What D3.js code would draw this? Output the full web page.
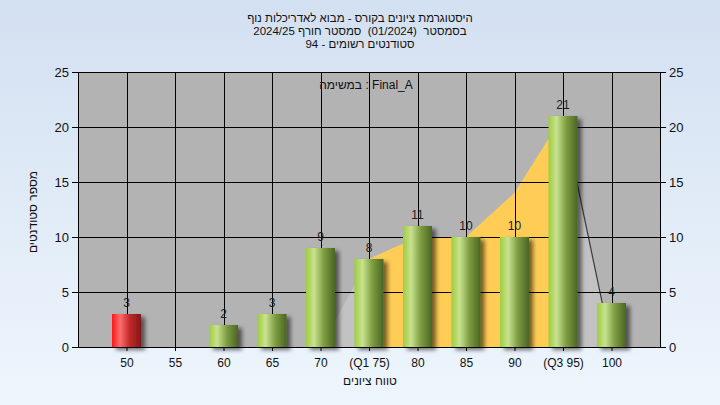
<!DOCTYPE html>
<html><head><meta charset="utf-8">
<script src="https://cdn.jsdelivr.net/npm/d3@7/dist/d3.min.js"></script>
<style>
html,body{margin:0;padding:0;}
svg{display:block;font-family:"Liberation Sans","DejaVu Sans",Arial,sans-serif;}
</style></head>
<body>
<svg id="chart" width="720" height="405"></svg>
<script>
const categories = ["50","55","60","65","70","(Q1 75)","80","85","90","(Q3 95)","100"];
const counts = [3,0,2,3,9,8,11,10,10,21,4];
const areaValues = [0,0,0,0,0,8,10,10,14,21,0];
const failCount = 1; // first bar(s) shown in red
const yTicks = [0,5,10,15,20,25];
const titleLines = ["היסטוגרמת ציונים בקורס - מבוא לאדריכלות נוף","בסמסטר  (01/2024)  סמסטר חורף 2024/25","סטודנטים רשומים - 94"];
const innerLabel = "במשימה : Final_A";
const xTitle = "טווח ציונים";
const yTitle = "מספר סטודנטים";

const W=720,H=405, L=78,R=660,T=72,B=347;
const svg=d3.select("#chart");
const defs=svg.append("defs");
const bg=defs.append("linearGradient").attr("id","bg").attr("x1",0).attr("y1",0).attr("x2",0).attr("y2",1);
bg.append("stop").attr("offset","0%").attr("stop-color","#d3e0f1");
bg.append("stop").attr("offset","100%").attr("stop-color","#eef6fd");
function cyl(id,c0,c1,c2,c3){
  const g=defs.append("linearGradient").attr("id",id).attr("x1",0).attr("y1",0).attr("x2",1).attr("y2",0);
  g.append("stop").attr("offset","0%").attr("stop-color",c0);
  g.append("stop").attr("offset","28%").attr("stop-color",c1);
  g.append("stop").attr("offset","62%").attr("stop-color",c2);
  g.append("stop").attr("offset","100%").attr("stop-color",c3);
}
cyl("gGreen","#9fcd3e","#c8e290","#7c9c40","#4b6522");
cyl("gRed","#ff1818","#ff6c6c","#c02828","#801818");
const f=defs.append("filter").attr("id","sh").attr("x","-30%").attr("y","-30%").attr("width","180%").attr("height","160%");
f.append("feDropShadow").attr("dx",4).attr("dy",3).attr("stdDeviation",2).attr("flood-color","#000").attr("flood-opacity",0.55);
defs.append("clipPath").attr("id","plotclip").append("rect").attr("x",L).attr("y",T).attr("width",R-L).attr("height",B-T);

svg.append("rect").attr("width",W).attr("height",H).attr("fill","url(#bg)");

const x=d3.scalePoint().domain(categories).range([L,R]).padding(1);
const y=d3.scaleLinear().domain([0,25]).range([B,T]);

svg.append("rect").attr("x",L).attr("y",T).attr("width",R-L).attr("height",B-T).attr("fill","#b3b3b3");

// area behind bars
const pts=categories.map((c,i)=>({c,v:areaValues[i],i}));
const startIdx=4; // area begins at 70
const areaPts=pts.filter(p=>p.i>=startIdx);
const area=d3.area().x(p=>x(p.c)).y0(y(0)).y1(p=>y(p.v));
const plot=svg.append("g").attr("clip-path","url(#plotclip)");
plot.append("path").datum(areaPts).attr("d",area).attr("fill","#c2c2c2");
defs.append("clipPath").attr("id","iqr").append("rect")
  .attr("x",x(categories[5])).attr("y",T).attr("width",x(categories[9])-x(categories[5])).attr("height",B-T);
plot.append("path").datum(areaPts).attr("d",area).attr("fill","#ffcc55").attr("clip-path","url(#iqr)");
plot.append("path").datum(areaPts.slice(-2)).attr("d",d3.line().x(p=>x(p.c)).y(p=>y(p.v)))
  .attr("fill","none").attr("stroke","#3a3a3a").attr("stroke-width",1.2);

// grid
svg.append("g").selectAll("line.h").data(yTicks).join("line")
  .attr("x1",L).attr("x2",R).attr("y1",d=>y(d)).attr("y2",d=>y(d)).attr("stroke","#000").attr("stroke-width",1).attr("shape-rendering","crispEdges");
svg.append("g").selectAll("line.v").data(categories).join("line")
  .attr("x1",d=>Math.round(x(d))+0.5).attr("x2",d=>Math.round(x(d))+0.5).attr("y1",T).attr("y2",B).attr("stroke","#000").attr("stroke-width",1);

// inner label
svg.append("text").attr("x",366).attr("y",89).attr("text-anchor","middle").attr("font-size",12).attr("fill","#111").attr("direction","ltr").text(innerLabel);

// bars
const bw=29;
svg.append("g").selectAll("rect").data(categories.map((c,i)=>({c,v:counts[i],i})).filter(d=>d.v>0)).join("rect")
  .attr("x",d=>x(d.c)-bw/2).attr("y",d=>y(d.v)).attr("width",bw).attr("height",d=>y(0)-y(d.v))
  .attr("fill",d=>d.i<failCount?"url(#gRed)":"url(#gGreen)").attr("filter","url(#sh)");

// value labels
svg.append("g").selectAll("text").data(categories.map((c,i)=>({c,v:counts[i]})).filter(d=>d.v>0)).join("text")
  .attr("x",d=>x(d.c)).attr("y",d=>y(d.v)-7).attr("text-anchor","middle").attr("font-size",12).attr("fill","#1c1c1c").text(d=>d.v);

// axes
const yl=svg.append("g").attr("transform",`translate(${L},0)`).call(d3.axisLeft(y).tickValues(yTicks).tickSize(6).tickPadding(3));
const yr=svg.append("g").attr("transform",`translate(${R},0)`).call(d3.axisRight(y).tickValues(yTicks).tickSize(6).tickPadding(3));
const xb=svg.append("g").attr("transform",`translate(0,${B})`).call(d3.axisBottom(x).tickSize(4).tickPadding(7));
[yl,yr,xb].forEach(g=>{
  g.selectAll("text").attr("font-size",13).attr("fill","#111").attr("font-family","Liberation Sans, DejaVu Sans, Arial, sans-serif");
  g.selectAll("line,path").attr("stroke","#000");
});
xb.selectAll("text").attr("font-size",12);
xb.select("path.domain").attr("d",`M${L},0.5H${R}`);
svg.append("line").attr("x1",L).attr("x2",R).attr("y1",T+0.5).attr("y2",T+0.5).attr("stroke","#000");

// titles
svg.append("g").selectAll("text").data(titleLines).join("text")
  .attr("x",360).attr("y",(d,i)=>22+i*13).attr("text-anchor","middle").attr("direction","rtl")
  .style("white-space","pre")
  .attr("font-size",11.5).attr("fill","#111").text(d=>d);
svg.append("text").attr("x",370).attr("y",385).attr("text-anchor","middle").attr("font-size",12).attr("fill","#111").text(xTitle);
svg.append("text").attr("transform","translate(37,212) rotate(-90)").attr("text-anchor","middle").attr("font-size",12).attr("fill","#111").text(yTitle);
</script>
</body></html>
